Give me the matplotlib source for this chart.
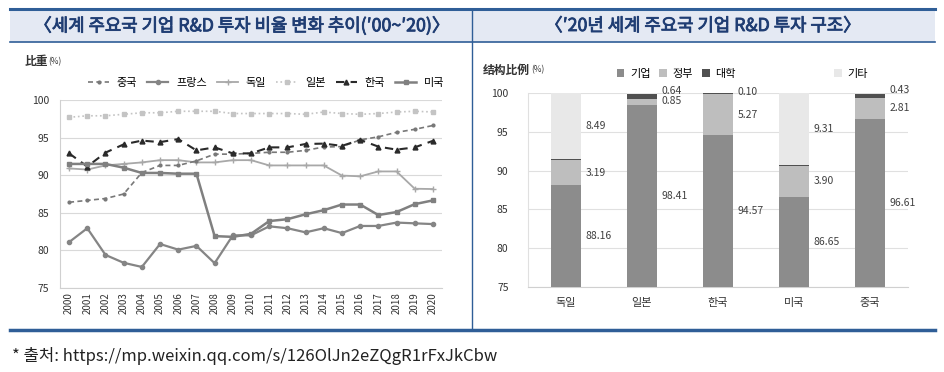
import numpy as np
import matplotlib
matplotlib.use('Agg')
import matplotlib.pyplot as plt
import matplotlib.patheffects as pe
from matplotlib.lines import Line2D
from matplotlib.patches import Rectangle

plt.rcParams['font.family'] = ['Noto Sans CJK KR', 'Noto Sans CJK SC', 'DejaVu Sans']

# --- data: left chart (share of business R&D, %) ---
years = [str(y) for y in range(2000, 2021)]
china = [86.4, 86.65, 86.9, 87.5, 90.35, 91.3, 91.3, 91.9, 92.8, 92.8, 92.9,
         93.05, 93.05, 93.3, 93.75, 93.8, 94.7, 95.1, 95.7, 96.1, 96.61]
france = [81.1, 82.95, 79.4, 78.35, 77.8, 80.85, 80.1, 80.6, 78.3, 82.0, 82.0,
          83.2, 82.95, 82.4, 82.95, 82.3, 83.25, 83.25, 83.7, 83.6, 83.5]
germany = [90.9, 90.75, 91.3, 91.5, 91.7, 92.0, 92.0, 91.7, 91.7, 92.0, 92.0,
           91.3, 91.3, 91.3, 91.3, 89.95, 89.85, 90.5, 90.5, 88.2, 88.16]
japan = [97.7, 97.9, 97.9, 98.1, 98.3, 98.3, 98.5, 98.5, 98.5, 98.2, 98.2,
         98.2, 98.2, 98.1, 98.4, 98.2, 98.1, 98.2, 98.4, 98.5, 98.41]
korea = [92.9, 91.15, 93.0, 94.1, 94.6, 94.4, 94.8, 93.3, 93.7, 92.9, 92.9,
         93.7, 93.7, 94.15, 94.2, 93.9, 94.7, 93.8, 93.4, 93.7, 94.57]
usa = [91.5, 91.5, 91.5, 91.0, 90.3, 90.3, 90.2, 90.2, 81.9, 81.8, 82.2,
       83.9, 84.15, 84.8, 85.35, 86.1, 86.1, 84.7, 85.1, 86.15, 86.65]

# --- data: right chart (2020 structure, %) ---
countries = ['독일', '일본', '한국', '미국', '중국']
business = [88.16, 98.41, 94.57, 86.65, 96.61]
government = [3.19, 0.85, 5.27, 3.90, 2.81]
university = [0.16, 0.64, 0.10, 0.14, 0.43]
other = [8.49, 0.10, 0.06, 9.31, 0.0]
labels_shown = [
    ['88.16', '3.19', None, '8.49'],
    ['98.41', '0.85', '0.64', None],
    ['94.57', '5.27', None, '0.10'],
    ['86.65', '3.90', None, '9.31'],
    ['96.61', '2.81', '0.43', None],
]

W, H = 945, 372
fig = plt.figure(figsize=(W / 100, H / 100), dpi=100)

def box(x0, y0, x1, y1):
    # pixel box (top-left origin) -> figure fraction rect
    return [x0 / W, 1 - y1 / H, (x1 - x0) / W, (y1 - y0) / H]

blue = '#2f5e97'
title_col = '#1f3d73'
band = Rectangle((10 / W, 1 - 42 / H), (935 - 10) / W, 34 / H, transform=fig.transFigure,
                 facecolor='#e4e9f3', edgecolor='none', zorder=0)
fig.patches.append(band)
for yy, lw in [(8.5, 2.2), (42, 1.2), (329.5, 2.5)]:
    fig.add_artist(Line2D([10 / W, 935 / W], [1 - yy / H, 1 - yy / H], color=blue, lw=lw))
fig.add_artist(Line2D([472 / W, 472 / W], [1 - 8.5 / H, 1 - 329.5 / H], color=blue, lw=1.0))

# slightly heavier than regular, lighter than bold
thick = [pe.withStroke(linewidth=0.6, foreground=title_col)]
fig.text(242 / W, 1 - 26 / H, '〈세계 주요국 기업 R&D 투자 비율 변화 추이(′00~′20)〉',
         ha='center', va='center', fontsize=12.8, color=title_col, path_effects=thick)
fig.text(703 / W, 1 - 26 / H, '〈′20년 세계 주요국 기업 R&D 투자 구조〉',
         ha='center', va='center', fontsize=12.8, color=title_col, path_effects=thick)
fig.text(12 / W, 1 - 356 / H, '* 출처: https://mp.weixin.qq.com/s/126OlJn2eZQgR1rFxJkCbw',
         ha='left', va='center', fontsize=12, color='#222222')

# ---------------- left chart ----------------
ax = fig.add_axes(box(60, 100, 442, 288))
x = np.arange(len(years))
ax.plot(x, japan, color='#c4c4c4', ls=':', lw=1.2, marker='s', ms=3.5, label='일본', zorder=3)
ax.plot(x, germany, color='#a8a8a8', ls='-', lw=1.3, marker='+', ms=4.5, mew=1.0, label='독일', zorder=3)
ax.plot(x, china, color='#787878', ls=(0, (3, 2)), lw=1.2, marker='.', ms=4, label='중국', zorder=4)
ax.plot(x, korea, color='#2a2a2a', ls=(0, (4, 3)), lw=1.5, marker='^', ms=3.5, label='한국', zorder=4)
ax.plot(x, france, color='#858585', ls='-', lw=1.6, marker='o', ms=3, label='프랑스', zorder=4)
ax.plot(x, usa, color='#808080', ls='-', lw=1.8, marker='s', ms=3.5, label='미국', zorder=4)

ax.set_xlim(-0.5, len(years) - 0.5)
ax.set_ylim(75, 100)
ax.set_yticks([75, 80, 85, 90, 95, 100])
ax.set_xticks(x)
ax.set_xticklabels(years, rotation=90, fontsize=7, color='#333333')
ax.tick_params(axis='y', labelsize=7.5, colors='#333333', length=0, pad=8)
ax.tick_params(axis='x', length=0, pad=3)
ax.grid(axis='y', color='#d9d9d9', lw=0.8)
ax.set_axisbelow(True)
for s in ['top', 'right']:
    ax.spines[s].set_visible(False)
ax.spines['left'].set_color('#d0d0d0')
ax.spines['bottom'].set_color('#d0d0d0')

h, l = ax.get_legend_handles_labels()
order = ['중국', '프랑스', '독일', '일본', '한국', '미국']
hd = dict(zip(l, h))
ax.legend([hd[k] for k in order], order, loc='center', bbox_to_anchor=(0.54, 1.09),
          ncol=6, frameon=False, fontsize=8, handlelength=1.9, columnspacing=0.9,
          handletextpad=0.7, borderaxespad=0)
fig.text(25 / W, 1 - 62 / H, '比重', fontsize=8.5, fontweight='bold', color='#333333',
         va='center', ha='left')
fig.text(48 / W, 1 - 62 / H, '(%)', fontsize=6, color='#333333', va='center', ha='left')

# ---------------- right chart ----------------
bx = fig.add_axes(box(528, 93, 908, 287))
xc = np.arange(len(countries))
bw = 0.4
segs = [business, government, university, other]
seg_colors = ['#8c8c8c', '#bebebe', '#505050', '#e8e8e8']
seg_names = ['기업', '정부', '대학', '기타']
bottom = np.zeros(len(countries))
bars = []
for vals, col, nm in zip(segs, seg_colors, seg_names):
    b = bx.bar(xc, vals, bw, bottom=bottom, color=col, label=nm, zorder=3)
    bars.append(b)
    bottom = bottom + np.array(vals)

for i in range(len(countries)):
    base = 0.0
    for j, vals in enumerate(segs):
        v = vals[i]
        lo, hi = base, base + v
        base = hi
        txt = labels_shown[i][j]
        if txt is None:
            continue
        vis_lo = max(lo, 75)
        yc = (vis_lo + hi) / 2
        dy = 0
        if v < 1:
            dy = 4 if j == 2 else 0.5
            if j == 3:
                yc = hi
        bx.annotate(txt, (xc[i] + bw / 2, yc), xytext=(3, dy), textcoords='offset points',
                    ha='left', va='center', fontsize=7.5, color='#404040', zorder=5)

bx.set_xlim(-0.5, len(countries) - 0.5)
bx.set_ylim(75, 100)
bx.set_yticks([75, 80, 85, 90, 95, 100])
bx.set_xticks(xc)
bx.set_xticklabels(countries, fontsize=8, color='#333333')
bx.tick_params(axis='y', labelsize=7.5, colors='#333333', length=0, pad=14)
bx.tick_params(axis='x', length=0, pad=8)
bx.grid(axis='y', color='#e0e0e0', lw=0.8)
bx.set_axisbelow(True)
for s in ['top', 'right']:
    bx.spines[s].set_visible(False)
bx.spines['left'].set_color('#e0e0e0')
bx.spines['bottom'].set_color('#d0d0d0')

leg1 = bx.legend(bars[:3], seg_names[:3], loc='center', bbox_to_anchor=(0.39, 1.1),
                 ncol=3, frameon=False, fontsize=8, handlelength=0.7, handleheight=0.7,
                 columnspacing=0.8, handletextpad=0.5, borderaxespad=0)
bx.add_artist(leg1)
bx.legend(bars[3:], seg_names[3:], loc='center', bbox_to_anchor=(0.85, 1.1),
          frameon=False, fontsize=8, handlelength=0.7, handleheight=0.7,
          handletextpad=0.5, borderaxespad=0)
fig.text(483 / W, 1 - 70 / H, '结构比例', fontsize=8.5, fontweight='bold', color='#333333',
         va='center', ha='left')
fig.text(531 / W, 1 - 70 / H, '(%)', fontsize=6, color='#333333', va='center', ha='left')

fig.savefig('out.png', dpi=100)
